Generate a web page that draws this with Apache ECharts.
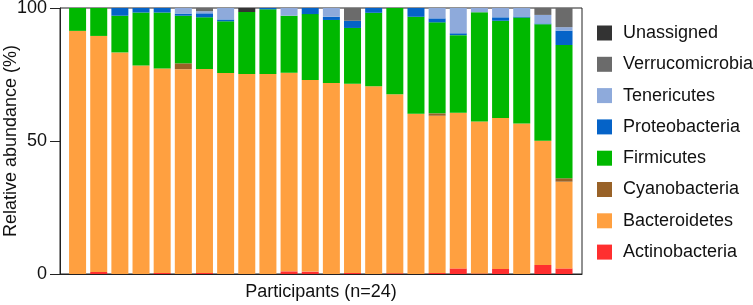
<!DOCTYPE html>
<html>
<head>
<meta charset="utf-8">
<script src="https://cdn.jsdelivr.net/npm/echarts@6/dist/echarts.min.js"></script>
<style>html,body{margin:0;padding:0;background:#fff}#c{width:753px;height:305px}</style>
</head>
<body>
<div id="c"></div>
<script>
// 24 participants, relative abundance (%) per phylum
const participants = Array.from({length: 24}, (_, i) => 'P' + (i + 1));
const actinobacteria  = [0, 0.75, 0, 0, 0.4, 0, 0.4, 0, 0, 0, 1.0, 0.9, 0, 0.4, 0, 0.3, 0, 0.4, 2.1, 0.2, 1.9, 0, 3.4, 2.1];
const bacteroidetes   = [91.4, 88.75, 83.3, 78.4, 76.9, 77.0, 76.7, 75.6, 75.2, 75.2, 74.7, 72.0, 71.8, 71.1, 70.6, 67.3, 60.2, 59.1, 58.5, 57.1, 56.7, 56.6, 46.7, 32.6];
const cyanobacteria   = [0, 0, 0, 0, 0, 2.2, 0, 0, 0, 0, 0, 0, 0, 0, 0, 0, 0, 0.9, 0, 0, 0, 0, 0, 1.3];
const firmicutes      = [8.6, 10.5, 13.8, 19.9, 21.0, 17.9, 19.4, 19.4, 23.3, 24.3, 21.4, 24.8, 23.7, 21.0, 27.6, 32.4, 36.5, 34.2, 29.2, 41.1, 36.6, 39.8, 43.8, 50.1];
const proteobacteria  = [0, 0, 2.9, 1.7, 1.7, 0.8, 1.5, 0.7, 0, 0.5, 0, 2.3, 1.2, 2.7, 1.8, 0, 3.3, 1.5, 0.7, 0, 1.3, 0.4, 0.3, 5.4];
const tenericutes     = [0, 0, 0, 0, 0, 2.1, 0.8, 4.3, 0, 0, 2.9, 0, 3.3, 0, 0, 0, 0, 3.9, 9.5, 1.6, 3.5, 3.2, 3.2, 1.3];
const verrucomicrobia = [0, 0, 0, 0, 0, 0, 1.2, 0, 0, 0, 0, 0, 0, 4.8, 0, 0, 0, 0, 0, 0, 0, 0, 2.6, 7.2];
const unassigned      = [0, 0, 0, 0, 0, 0, 0, 0, 1.5, 0, 0, 0, 0, 0, 0, 0, 0, 0, 0, 0, 0, 0, 0, 0];
const yTicks = [0, 50, 100];

const seriesDefs = [
  ['Actinobacteria', actinobacteria, '#ff2f2f'],
  ['Bacteroidetes', bacteroidetes, '#ffa040'],
  ['Cyanobacteria', cyanobacteria, '#996228'],
  ['Firmicutes', firmicutes, '#00b800'],
  ['Proteobacteria', proteobacteria, '#0563c8'],
  ['Tenericutes', tenericutes, '#8eaadb'],
  ['Verrucomicrobia', verrucomicrobia, '#6b6b6b'],
  ['Unassigned', unassigned, '#333333']
];

const font = 'Liberation Sans, Arial, sans-serif';
const chart = echarts.init(document.getElementById('c'), null, {renderer: 'canvas'});
chart.setOption({
  animation: false,
  backgroundColor: '#fff',
  textStyle: {fontFamily: font},
  grid: [
    // frame grid with axes
    {left: 60, right: 171, top: 8, bottom: 31, show: true, borderColor: '#222', borderWidth: 1,
     containLabel: false, outerBoundsMode: 'none'},
    // bar grid, inset inside the frame
    {left: 67, right: 178.4, top: 8, bottom: 31, containLabel: false, outerBoundsMode: 'none'}
  ],
  legend: {
    orient: 'vertical', left: 592, top: 19, itemWidth: 15, itemHeight: 15, itemGap: 13.3,
    icon: 'rect',
    data: seriesDefs.map(d => d[0]).reverse(),
    textStyle: {fontSize: 18, color: '#111', fontFamily: font, padding: [0, 0, 0, 6]}
  },
  xAxis: [
    {
      gridIndex: 0, type: 'value', min: 0, max: 1,
      name: 'Participants (n=24)', nameLocation: 'middle', nameGap: 9, nameMoveOverlap: false,
      nameTextStyle: {fontSize: 18, color: '#111', fontFamily: font},
      axisLine: {show: true, onZero: false, lineStyle: {color: '#222', width: 1}},
      axisTick: {show: false}, axisLabel: {show: false}, splitLine: {show: false}
    },
    {
      gridIndex: 1, type: 'category', data: participants,
      axisLine: {show: false}, axisTick: {show: false}, axisLabel: {show: false}, splitLine: {show: false}
    }
  ],
  yAxis: [
    {
      gridIndex: 0, type: 'value', min: yTicks[0], max: yTicks[yTicks.length - 1], interval: 50,
      name: 'Relative abundance (%)', nameLocation: 'middle', nameGap: 40, nameMoveOverlap: false,
      nameTextStyle: {fontSize: 18, color: '#111', fontFamily: font},
      axisLine: {show: true, onZero: false, lineStyle: {color: '#222', width: 1}},
      axisTick: {show: true, length: 10, lineStyle: {color: '#222'}},
      axisLabel: {fontSize: 18, color: '#111', margin: 13, fontFamily: font},
      splitLine: {show: false}
    },
    {
      gridIndex: 1, type: 'value', min: yTicks[0], max: yTicks[yTicks.length - 1],
      axisLine: {show: false}, axisTick: {show: false}, axisLabel: {show: false}, splitLine: {show: false}
    }
  ],
  series: seriesDefs.map(([name, vals, color]) => ({
    name, type: 'bar', stack: 'total', barWidth: 17,
    xAxisIndex: 1, yAxisIndex: 1,
    itemStyle: {color},
    data: vals
  }))
});
</script>
</body>
</html>
